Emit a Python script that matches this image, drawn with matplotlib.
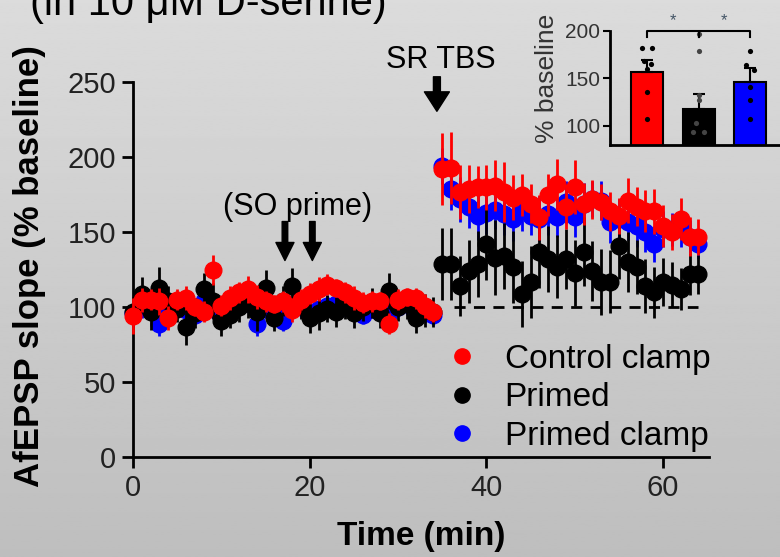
import numpy as np
import matplotlib
matplotlib.use('Agg')
import matplotlib.pyplot as plt
from matplotlib.lines import Line2D

plt.rcParams['font.family'] = ['Liberation Sans', 'DejaVu Sans']

# time points (min): baseline 0-34, after SR TBS 35-64
time_min = list(range(65))

# Control clamp (red)
control_base = [94, 105, 105, 104, 93, 105, 106, 100, 97, 125, 101, 106, 110, 112, 107, 104, 102, 104, 98, 105,
                109, 112, 115, 113, 110, 106, 103, 104, 104, 89, 105, 107, 106, 101, 97]
control_post = [192, 193, 177, 179, 180, 180, 181, 177, 173, 175, 169, 160, 175, 182, 167, 180, 169, 172, 170, 164,
                161, 171, 167, 164, 164, 154, 150, 159, 147, 147]
control_err_base = [12, 8, 7, 9, 8, 7, 8, 6, 7, 10, 7, 8, 7, 9, 8, 7, 6, 7, 8, 7, 7, 8, 7, 6, 7, 8, 7, 7, 6, 7, 7, 6, 7, 8, 7]
control_err_post = [24, 24, 18, 16, 14, 15, 17, 20, 15, 14, 13, 15, 14, 17, 15, 18, 14, 13, 12, 13,
                    12, 15, 13, 14, 15, 14, 12, 14, 13, 12]

# Primed (black)
primed_base = [97, 109, 97, 113, 104, 99, 87, 96, 112, 104, 91, 95, 100, 103, 97, 113, 93, 104, 114, 101,
               93, 96, 99, 97, 103, 96, 100, 103, 96, 111, 100, 102, 93, 98, 97]
primed_post = [129, 129, 114, 124, 129, 142, 133, 134, 127, 109, 117, 137, 132, 127, 132, 123, 137, 124, 117, 117,
               141, 130, 127, 114, 110, 117, 115, 112, 122, 122]
primed_err_base = [10, 11, 12, 14, 10, 9, 12, 10, 11, 12, 10, 9, 10, 10, 13, 12, 9, 10, 12, 9,
                   10, 11, 9, 10, 11, 10, 9, 10, 10, 12, 9, 10, 10, 11, 10]
primed_err_post = [24, 24, 20, 21, 22, 24, 25, 22, 24, 22, 24, 24, 22, 21, 20, 22, 23, 20, 22, 21,
                   22, 20, 18, 18, 17, 16, 15, 14, 14, 13]

# Primed clamp (blue)
pclamp_base = [96, 100, 98, 89, 100, 102, 98, 95, 104, 99, 97, 100, 102, 103, 89, 99, 98, 91, 101, 100,
               97, 99, 101, 102, 100, 98, 95, 99, 101, 96, 100, 102, 99, 96, 95]
pclamp_post = [194, 179, 172, 167, 161, 163, 165, 162, 159, 165, 161, 159, 162, 160, 170, 160, 169, 172, 171, 157,
               159, 157, 154, 150, 142, 152, 152, 152, 147, 142]
pclamp_err_base = [6, 7, 6, 8, 7, 6, 7, 6, 7, 6, 7, 6, 7, 6, 8, 6, 7, 7, 6, 7, 6, 6, 7, 6, 6, 7, 6, 6, 7, 6, 6, 7, 6, 6, 7]
pclamp_err_post = [12, 14, 15, 14, 16, 14, 13, 14, 15, 14, 13, 15, 14, 13, 14, 13, 14, 12, 13, 14,
                   13, 12, 14, 13, 12, 12, 11, 12, 11, 10]

labels = ['Control clamp', 'Primed', 'Primed clamp']
colors = ['#ff0000', '#000000', '#0000ff']

# inset: mean % baseline (last 10 min)
inset_mean = [157, 118, 146]
inset_sem = [12, 16, 15]
inset_pts = [[182, 182, 168, 165, 160, 136, 107],
             [197, 179, 133, 127, 103, 94, 94],
             [179, 164, 159, 141, 127, 107]]
inset_jitter = [[-0.1, 0.1, -0.06, 0.08, 0.0, 0.0, 0.0],
                [0.0, 0.0, 0.0, 0.0, -0.05, -0.1, 0.1],
                [0.0, -0.08, 0.08, 0.0, 0.0, 0.0]]

tbs_time = 34.4
prime_times = [17.2, 20.3]
dash_start, dash_end = 36.3, 64

fig = plt.figure(figsize=(7.8, 5.57), dpi=100)

# grey gradient background
bg = fig.add_axes([0, 0, 1, 1], zorder=-10)
bg.imshow(np.linspace(0.86, 0.745, 256)[:, None], cmap='gray', vmin=0, vmax=1,
          aspect='auto', extent=[0, 1, 0, 1])
bg.set_axis_off()

ax = fig.add_axes([0.1705, 0.1795, 0.7385, 0.6732])
ax.set_facecolor('none')

series = [(pclamp_base + pclamp_post, pclamp_err_base + pclamp_err_post, colors[2], 2),
          (primed_base + primed_post, primed_err_base + primed_err_post, colors[1], 3),
          (control_base + control_post, control_err_base + control_err_post, colors[0], 4)]
for y, e, c, z in series:
    ax.errorbar(time_min, y, yerr=e, fmt='o', color=c, ms=12, elinewidth=2, capsize=0,
                zorder=z, clip_on=False)

ax.hlines(100, dash_start, dash_end, colors='black', linestyles=(0, (4, 3)), linewidth=2, zorder=5)

ax.set_xlim(0, 65.2)
ax.set_ylim(0, 250)
ax.set_xticks([0, 20, 40, 60])
ax.set_yticks([0, 50, 100, 150, 200, 250])
for s in ['top', 'right']:
    ax.spines[s].set_visible(False)
for s in ['left', 'bottom']:
    ax.spines[s].set_linewidth(2)
ax.tick_params(direction='out', length=8, width=2, labelsize=21, pad=4, labelcolor='#222')

ax.set_ylabel('AfEPSP slope (% baseline)', fontsize=25, fontweight='bold', va='center')
ax.yaxis.set_label_coords(-0.179, 0.51)
ax.set_xlabel('Time (min)', fontsize=24, fontweight='bold', va='center')
ax.xaxis.set_label_coords(0.5, -0.213)

# stimulation annotations
ax.text(34.8, 265, 'SR TBS', ha='center', va='center', fontsize=22)
ax.annotate('', xy=(tbs_time, 230.5), xytext=(tbs_time, 253.5), annotation_clip=False,
            arrowprops=dict(facecolor='black', edgecolor='black', width=5, headwidth=18, headlength=14, shrink=0))
ax.text(18.6, 167, '(SO prime)', ha='center', va='center', fontsize=22)
for t in prime_times:
    ax.annotate('', xy=(t, 131), xytext=(t, 157),
                arrowprops=dict(facecolor='black', edgecolor='black', width=4, headwidth=13, headlength=13, shrink=0))

handles = [Line2D([], [], ls='none', marker='o', ms=11, color=c) for c in colors]
ax.legend(handles, labels, loc='upper left', bbox_to_anchor=(0.542, 0.301), frameon=False, fontsize=24,
          handlelength=1.0, handletextpad=0.78, labelspacing=0.22, borderpad=0, borderaxespad=0)

fig.text(30 / 780, 1 - 15 / 557, '(in 10 μM D-serine)', fontsize=30, va='baseline', ha='left')

# inset bar chart
ins = fig.add_axes([0.782, 0.7397, 0.218, 0.2047])
ins.set_facecolor('none')
xs = np.arange(3)
ins.bar(xs, inset_mean, width=0.62, color=colors, edgecolor='black', linewidth=1.5, zorder=2)
ins.errorbar(xs, inset_mean, yerr=[[0, 0, 0], inset_sem], fmt='none', ecolor='black',
             elinewidth=1.5, capsize=4, capthick=1.5, zorder=3)
for i, (pts, jit) in enumerate(zip(inset_pts, inset_jitter)):
    fc = '#444' if i == 1 else 'black'
    ins.scatter(xs[i] + np.array(jit), pts, s=14, c=fc, linewidths=0, zorder=4, clip_on=False)
# significance brackets
for a, b in [(0, 1), (1, 2)]:
    ins.plot([a, a, b, b], [194, 200, 200, 194], color='black', lw=1.5, clip_on=False, zorder=5)
    ins.text((a + b) / 2, 211, '*', ha='center', va='center', fontsize=12, color='#445566')
ins.set_xlim(-0.72, 2.58)
ins.set_ylim(80, 200)
ins.set_xticks([])
ins.set_yticks([100, 150, 200])
for s in ['top', 'right']:
    ins.spines[s].set_visible(False)
for s in ['left', 'bottom']:
    ins.spines[s].set_linewidth(2)
ins.tick_params(axis='y', direction='out', length=5, width=1.5, labelsize=15, pad=2, labelcolor='#333')
ins.set_ylabel('% baseline', fontsize=19, color='#333', va='center')
ins.yaxis.set_label_coords(-0.37, 0.58)

fig.savefig('out.png', dpi=100)
